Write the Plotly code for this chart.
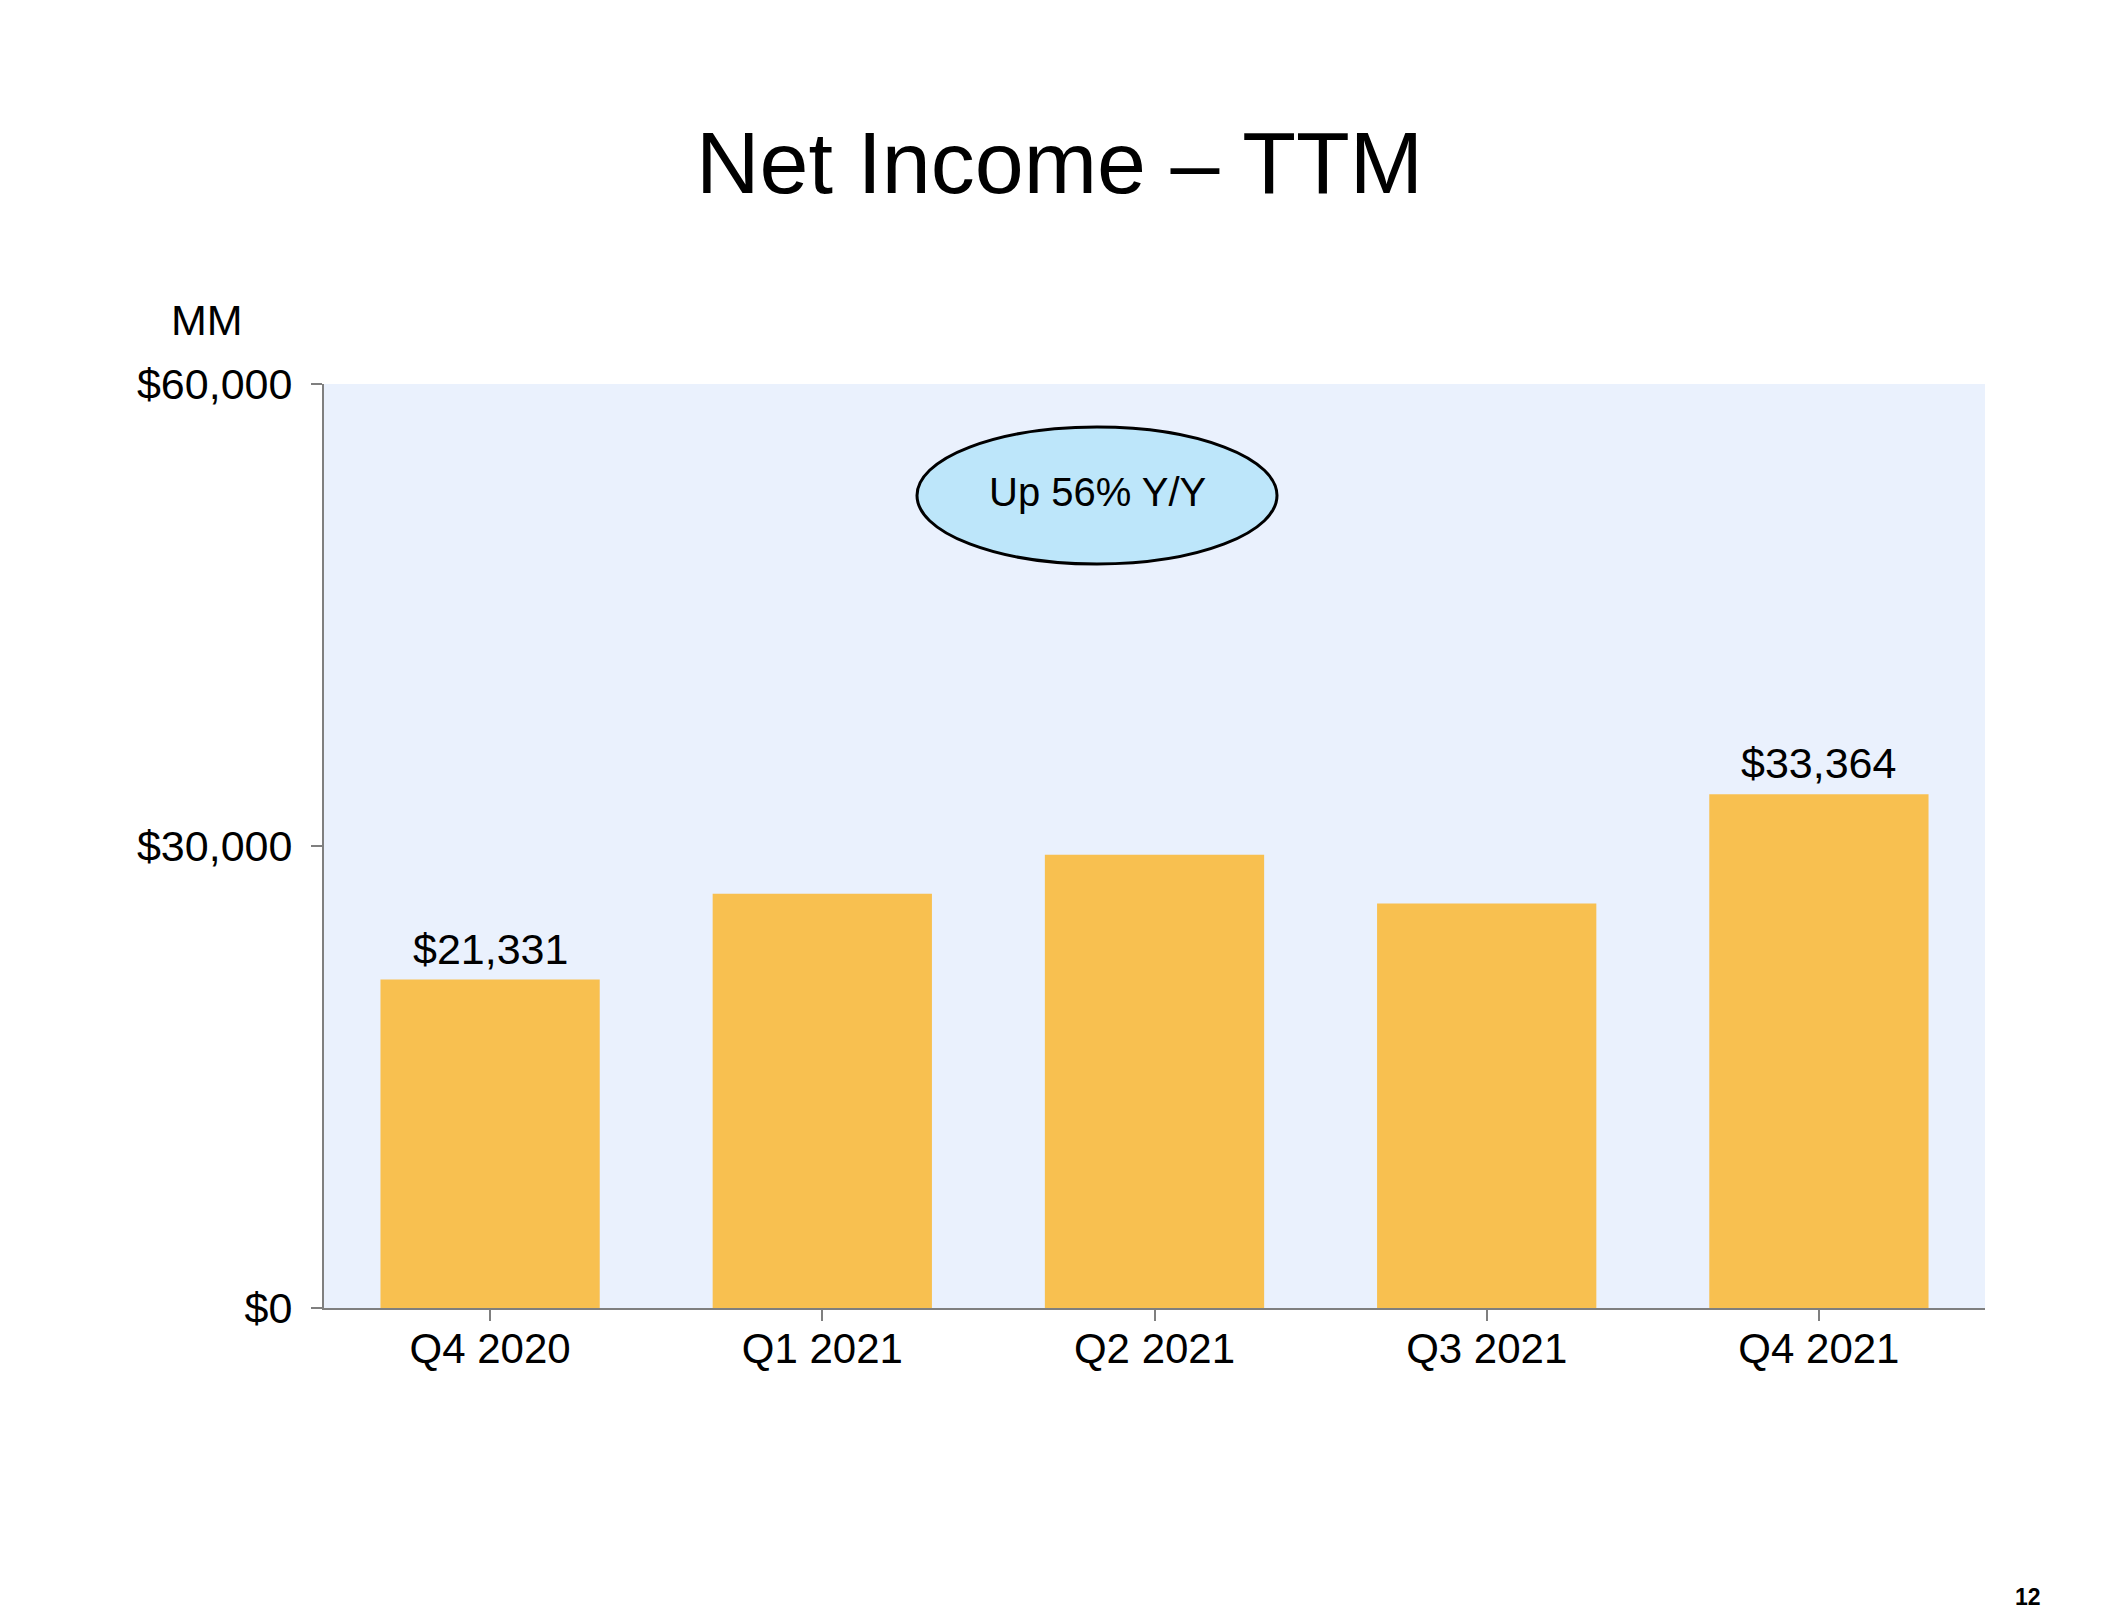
import plotly.graph_objects as go

categories = ["Q4 2020", "Q1 2021", "Q2 2021", "Q3 2021", "Q4 2021"]
net_income = [21331, 26903, 29438, 26263, 33364]
labelled = [0, 4]
y_ticks = [0, 30000, 60000]
y_tick_labels = ["$0", "$30,000", "$60,000"]

FONT = "Arial, Liberation Sans, Helvetica, sans-serif"

# plot area in pixels
L, R, T, B = 324, 134, 384, 311
W, H = 2119, 1619
PW, PH = W - L - R, H - T - B


def px(x):
    return (x - L) / PW


def py(y):
    return (H - B - y) / PH


fig = go.Figure()
fig.add_trace(go.Bar(
    x=categories, y=net_income,
    marker=dict(color="#F8C050", line=dict(width=0)),
    width=0.66, hoverinfo="skip",
))

annotations = []
for i in labelled:
    annotations.append(dict(
        x=categories[i], y=net_income[i], xref="x", yref="y",
        text="${:,}".format(net_income[i]), showarrow=False,
        yanchor="middle", yshift=31,
        font=dict(family=FONT, size=43, color="black"),
    ))

annotations += [
    dict(x=px(1059.5), y=py(162), xref="paper", yref="paper", text="Net Income – TTM",
         showarrow=False, xanchor="center", yanchor="middle",
         font=dict(family=FONT, size=88, color="black")),
    dict(x=px(1097), y=py(492), xref="paper", yref="paper", text="Up 56% Y/Y",
         showarrow=False, xanchor="center", yanchor="middle",
         font=dict(family=FONT, size=40, color="black")),
    dict(x=px(207), y=py(320), xref="paper", yref="paper", text="MM",
         showarrow=False, xanchor="center", yanchor="middle",
         font=dict(family=FONT, size=43, color="black")),
    dict(x=px(2028), y=py(1597), xref="paper", yref="paper", text="<b>12</b>",
         showarrow=False, xanchor="center", yanchor="middle",
         font=dict(family=FONT, size=23, color="black")),
]

fig.update_layout(
    width=W, height=H,
    margin=dict(l=L, r=R, t=T, b=B, pad=0),
    paper_bgcolor="white", plot_bgcolor="#EAF1FD",
    showlegend=False,
    font=dict(family=FONT, color="black"),
    xaxis=dict(
        type="category", showgrid=False, zeroline=False,
        showline=True, linecolor="#7F7F7F", linewidth=2,
        ticks="outside", ticklen=11, tickwidth=2, tickcolor="#7F7F7F",
        ticklabelstandoff=-8,
        tickfont=dict(family=FONT, size=42, color="black"),
        range=[-0.5, 4.5],
    ),
    yaxis=dict(
        range=[0, 60000], tickvals=y_ticks, ticktext=y_tick_labels,
        showgrid=False, zeroline=False,
        showline=True, linecolor="#7F7F7F", linewidth=2,
        ticks="outside", ticklen=11, tickwidth=2, tickcolor="#7F7F7F",
        ticklabelstandoff=10,
        tickfont=dict(family=FONT, size=43, color="black"),
    ),
    annotations=annotations,
    shapes=[dict(
        type="circle", xref="paper", yref="paper",
        x0=px(917), x1=px(1277), y0=py(564), y1=py(427),
        fillcolor="#BDE6FA", line=dict(color="black", width=3), layer="above",
    )],
)

fig.write_html("out.html")
